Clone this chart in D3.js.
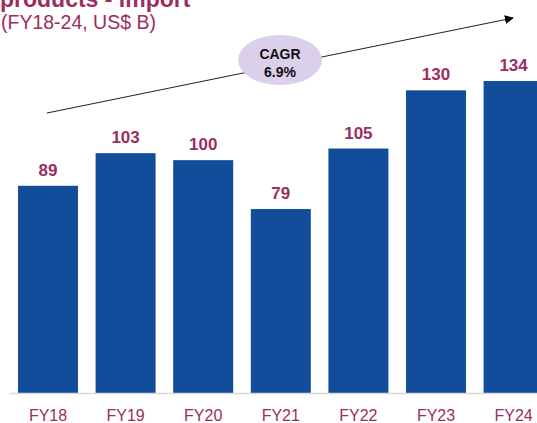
<!DOCTYPE html>
<html>
<head>
<meta charset="utf-8">
<script src="https://cdn.jsdelivr.net/npm/d3@7"></script>
<style>
  body { margin: 0; background: #fff; }
  svg { display: block; font-family: "Liberation Sans", Arial, sans-serif; }
</style>
</head>
<body>
<div id="graf"></div>
<script>
// datos
const anios = ['FY18', 'FY19', 'FY20', 'FY21', 'FY22', 'FY23', 'FY24']
const valores = [89, 103, 100, 79, 105, 130, 134]
const titulo = 'products - import'
const subtitulo = '(FY18-24, US$ B)'
const cagr = ['CAGR', '6.9%']

const ancho = 537, alto = 423
const ciruela = '#9b2d5f'
const azul = '#114d9b'

const svg = d3.select('#graf').append('svg')
  .attr('width', ancho)
  .attr('height', alto)

// escalas
const paso = 77.6
x = d3.scaleBand()
  .domain(anios)
  .range([9.2, 9.2 + paso * anios.length])
  .paddingInner(0.227)
  .paddingOuter(0.1135)

y = d3.scaleLinear()
  .domain([0, 134])
  .range([393, 81])

// barras
svg.selectAll('rect.barra')
  .data(anios)
  .enter()
  .append('rect')
    .attr('class', 'barra')
    .attr('x', d => x(d))
    .attr('y', (d, i) => y(valores[i]))
    .attr('width', x.bandwidth())
    .attr('height', (d, i) => y(0) - y(valores[i]))
    .attr('fill', azul)

// etiquetas de valor
svg.selectAll('text.valor')
  .data(anios)
  .enter()
  .append('text')
    .attr('class', 'valor')
    .attr('x', d => x(d) + x.bandwidth() / 2)
    .attr('y', (d, i) => y(valores[i]) - 10)
    .attr('text-anchor', 'middle')
    .attr('font-size', '17px')
    .attr('font-weight', 'bold')
    .attr('fill', ciruela)
    .text((d, i) => valores[i])

// eje x
xAxisGroup = svg.append('g')
  .attr('transform', `translate(0, ${y(0)})`)
  .call(d3.axisBottom(x).tickSize(0).tickSizeOuter(0))

xAxisGroup.select('.domain')
  .attr('stroke', '#d9d9d9')
  .attr('stroke-width', 1.5)

xAxisGroup.selectAll('text')
  .attr('dy', null)
  .attr('y', 27.5)
  .attr('font-size', '16px')
  .attr('font-family', '"Liberation Sans", Arial, sans-serif')
  .attr('fill', ciruela)

// flecha de tendencia
svg.append('defs').append('marker')
  .attr('id', 'punta')
  .attr('viewBox', '0 0 10 10')
  .attr('refX', 9).attr('refY', 5)
  .attr('markerWidth', 9).attr('markerHeight', 9)
  .attr('markerUnits', 'userSpaceOnUse')
  .attr('orient', 'auto')
  .append('path')
    .attr('d', 'M0,0 L10,5 L0,10 Z')
    .attr('fill', '#000')

svg.append('line')
  .attr('x1', 47).attr('y1', 113)
  .attr('x2', 513).attr('y2', 18)
  .attr('stroke', '#222')
  .attr('stroke-width', 1)
  .attr('marker-end', 'url(#punta)')

svg.append('ellipse')
  .attr('cx', 280).attr('cy', 60)
  .attr('rx', 42).attr('ry', 25)
  .attr('fill', '#dccfec')

svg.selectAll('text.cagr')
  .data(cagr)
  .enter()
  .append('text')
    .attr('class', 'cagr')
    .attr('x', 280)
    .attr('y', (d, i) => 58.5 + i * 18)
    .attr('text-anchor', 'middle')
    .attr('font-size', '14px')
    .attr('font-weight', 'bold')
    .attr('fill', '#111')
    .text(d => d)

// título (recortado arriba, como en el original)
svg.append('text')
  .attr('x', 0).attr('y', 6.5)
  .attr('font-size', '23px')
  .attr('font-weight', 'bold')
  .attr('fill', ciruela)
  .text(titulo)

svg.append('text')
  .attr('x', 1).attr('y', 29)
  .attr('font-size', '19.5px')
  .attr('fill', ciruela)
  .text(subtitulo)
</script>
</body>
</html>
